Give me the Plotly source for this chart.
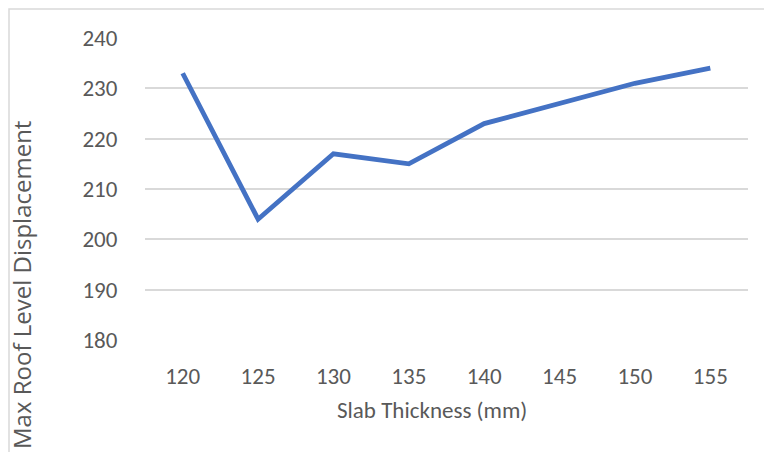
import plotly.graph_objects as go

slab_thickness = ["120", "125", "130", "135", "140", "145", "150", "155"]
max_roof_displacement = [233, 204, 217, 215, 223, 227, 231, 234]
y_ticks = [180, 190, 200, 210, 220, 230, 240]

W, H = 764, 452
L, R, T, B = 145, 748, 38, 340

tick_font = dict(family="Carlito, 'Liberation Sans Narrow', 'Open Sans', sans-serif", size=23, color="#595959")


def px(x):
    return (x - L) / (R - L)


def py(y):
    return (B - y) / (B - T)


fig = go.Figure()
fig.add_trace(go.Scatter(
    x=slab_thickness, y=max_roof_displacement, mode="lines",
    line=dict(color="#4472C4", width=4.8), hoverinfo="skip"))

fig.update_layout(
    width=W, height=H,
    margin=dict(l=L, r=W - R, t=T, b=H - B, pad=0, autoexpand=False),
    paper_bgcolor="white", plot_bgcolor="white",
    showlegend=False,
    xaxis=dict(type="category", range=[-0.5, 7.5], showgrid=False, zeroline=False,
               showline=False, ticks="outside", ticklen=15, tickcolor="rgba(0,0,0,0)",
               tickfont=tick_font, automargin=False),
    yaxis=dict(range=[180, 240], tickvals=y_ticks, showgrid=True, gridcolor="#D9D9D9",
               gridwidth=1.5, zeroline=False, showline=False, ticks="outside",
               ticklen=22, tickcolor="rgba(0,0,0,0)", tickfont=tick_font, automargin=False),
    shapes=[dict(type="rect", xref="paper", yref="paper",
                 x0=px(9), x1=px(780), y0=py(470), y1=py(9),
                 line=dict(color="#D9D9D9", width=1.5), fillcolor="rgba(0,0,0,0)", layer="below")],
    annotations=[
        dict(text="Max Roof Level Displacement", xref="paper", yref="paper",
             x=px(21), y=py(285), xanchor="center", yanchor="middle",
             textangle=-90, showarrow=False,
             font=dict(family="'Open Sans', sans-serif", size=24, color="#595959")),
        dict(text="Slab Thickness (mm)", xref="paper", yref="paper",
             x=px(432), y=py(410), xanchor="center", yanchor="middle",
             showarrow=False, font=tick_font),
    ],
)

fig.write_html("out.html", config={"displayModeBar": False},
               post_script="document.body.style.margin='0';document.body.style.overflow='hidden';")
